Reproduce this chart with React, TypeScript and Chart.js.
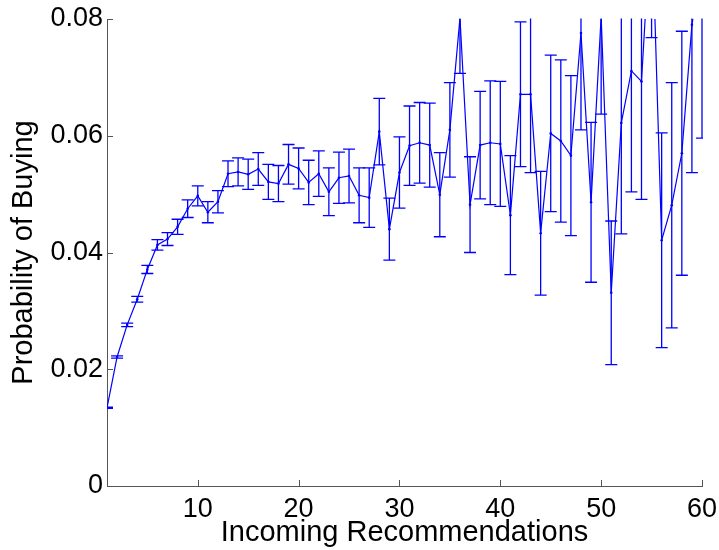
import React, { useEffect, useRef } from "react";
import { Chart, registerables } from "chart.js";

Chart.register(...registerables);

const incoming = [
  1, 2, 3, 4, 5, 6, 7, 8, 9, 10, 11, 12, 13, 14, 15, 16, 17, 18, 19, 20,
  21, 22, 23, 24, 25, 26, 27, 28, 29, 30, 31, 32, 33, 34, 35, 36, 37, 38, 39, 40,
  41, 42, 43, 44, 45, 46, 47, 48, 49, 50, 51, 52, 53, 54, 55, 56, 57, 58, 59, 60,
];

const probability = [
  0.0134, 0.0221, 0.0276, 0.032, 0.0371, 0.0413, 0.0423, 0.0444, 0.0475, 0.0497,
  0.0469, 0.0487, 0.0535, 0.0538, 0.0534, 0.0543, 0.0521, 0.0518, 0.0551, 0.0544,
  0.052, 0.0535, 0.0504, 0.0528, 0.0531, 0.0498, 0.0494, 0.0607, 0.044, 0.0537,
  0.0583, 0.0588, 0.0584, 0.0499, 0.061, 0.0802, 0.0482, 0.0584, 0.0588, 0.0586,
  0.0464, 0.0671, 0.0671, 0.0433, 0.0604, 0.0591, 0.0566, 0.0776, 0.0486, 0.0805,
  0.0331, 0.0622, 0.0711, 0.0693, 0.099, 0.0421, 0.0481, 0.057, 0.079, 0.09,
];

const stdError = [
  0.0001, 0.0002, 0.0003, 0.0005, 0.0007, 0.0009, 0.0011, 0.0013, 0.0015, 0.0017,
  0.0018, 0.0019, 0.0022, 0.0024, 0.0026, 0.0028, 0.003, 0.0031, 0.0034, 0.0035,
  0.0038, 0.0039, 0.0041, 0.0044, 0.0046, 0.0047, 0.0051, 0.0057, 0.0053, 0.0061,
  0.0068, 0.0069, 0.0072, 0.0072, 0.0081, 0.0095, 0.0082, 0.0092, 0.0106, 0.0107,
  0.0102, 0.0124, 0.0134, 0.0106, 0.0134, 0.0139, 0.0137, 0.0166, 0.0137, 0.0168,
  0.0123, 0.019, 0.0207, 0.0202, 0.0222, 0.0184, 0.021, 0.0209, 0.0253, 0.0304,
];

const xTickValues = [10, 20, 30, 40, 50, 60];
const yTickValues = [0, 0.02, 0.04, 0.06, 0.08];
const yTickLabels = ["0", "0.02", "0.04", "0.06", "0.08"];

const FONT = "'Liberation Sans', Arial, Helvetica, sans-serif";
const BLUE = "#0000ff";

const errorBarPlugin = {
  id: "errorBars",
  afterDatasetsDraw(chart: any) {
    const { ctx, chartArea, scales } = chart;
    const xs = scales.x;
    const ys = scales.y;
    ctx.save();
    ctx.beginPath();
    ctx.rect(chartArea.left, chartArea.top - 0.5, chartArea.right - chartArea.left + 1, chartArea.bottom - chartArea.top + 1);
    ctx.clip();
    ctx.strokeStyle = BLUE;
    ctx.lineWidth = 1.3;
    const cap = 6;
    for (let i = 0; i < incoming.length; i++) {
      const x = xs.getPixelForValue(incoming[i]);
      const yTop = ys.getPixelForValue(probability[i] + stdError[i]);
      const yBot = ys.getPixelForValue(probability[i] - stdError[i]);
      ctx.beginPath();
      ctx.moveTo(x, yTop);
      ctx.lineTo(x, yBot);
      ctx.moveTo(x - cap, yTop);
      ctx.lineTo(x + cap, yTop);
      ctx.moveTo(x - cap, yBot);
      ctx.lineTo(x + cap, yBot);
      ctx.stroke();
    }
    ctx.restore();
  },
};

const inwardTicksPlugin = {
  id: "inwardTicks",
  afterDraw(chart: any) {
    const { ctx, chartArea, scales } = chart;
    const len = 6;
    ctx.save();
    ctx.strokeStyle = "#555555";
    ctx.lineWidth = 1;
    ctx.beginPath();
    for (const v of xTickValues) {
      const x = Math.round(scales.x.getPixelForValue(v)) + 0.5;
      ctx.moveTo(x, chartArea.bottom);
      ctx.lineTo(x, chartArea.bottom - len);
    }
    for (const v of yTickValues) {
      const y = Math.round(scales.y.getPixelForValue(v)) + 0.5;
      ctx.moveTo(chartArea.left, y);
      ctx.lineTo(chartArea.left + len, y);
    }
    ctx.stroke();
    ctx.restore();
  },
};

export default function App() {
  const canvasRef = useRef<HTMLCanvasElement | null>(null);

  useEffect(() => {
    if (!canvasRef.current) return;
    const chart = new Chart(canvasRef.current, {
      type: "line",
      data: {
        datasets: [
          {
            data: incoming.map((x, i) => ({ x, y: probability[i] })),
            borderColor: BLUE,
            backgroundColor: BLUE,
            borderWidth: 1.2,
            pointRadius: 1.3,
            pointBorderWidth: 0,
            pointBackgroundColor: BLUE,
            tension: 0,
            fill: false,
            clip: 0,
          },
        ],
      },
      options: {
        animation: false,
        responsive: false,
        devicePixelRatio: 1,
        layout: { padding: { top: 19, right: 17, left: 0, bottom: 0 } },
        plugins: {
          legend: { display: false },
          tooltip: { enabled: false },
        },
        scales: {
          x: {
            type: "linear",
            min: 1,
            max: 60,
            grid: { display: false, drawTicks: false },
            border: { display: true, color: "#555555", width: 1 },
            afterBuildTicks: (scale: any) => {
              scale.ticks = xTickValues.map((v) => ({ value: v }));
            },
            afterFit: (scale: any) => {
              scale.height = 64;
              scale.paddingLeft = 0;
              scale.paddingRight = 0;
            },
            ticks: {
              padding: 7,
              color: "#000",
              font: { family: FONT, size: 27 },
              maxRotation: 0,
              autoSkip: false,
            },
            title: {
              display: true,
              text: "Incoming Recommendations",
              color: "#000",
              font: { family: FONT, size: 29 },
              padding: { top: 0, bottom: 0 },
            },
          },
          y: {
            type: "linear",
            min: 0,
            max: 0.08,
            grid: { display: false, drawTicks: false },
            border: { display: true, color: "#555555", width: 1 },
            afterBuildTicks: (scale: any) => {
              scale.ticks = yTickValues.map((v) => ({ value: v }));
            },
            afterFit: (scale: any) => {
              scale.width = 107;
              scale.paddingTop = 0;
              scale.paddingBottom = 0;
            },
            ticks: {
              padding: 4,
              color: "#000",
              font: { family: FONT, size: 27 },
              autoSkip: false,
              callback: (value: any) => {
                const idx = yTickValues.findIndex((v) => Math.abs(v - Number(value)) < 1e-9);
                return idx >= 0 ? yTickLabels[idx] : "";
              },
            },
            title: {
              display: true,
              text: "Probability of Buying",
              color: "#000",
              font: { family: FONT, size: 29 },
              padding: { top: 7, bottom: 0 },
            },
          },
        },
      },
      plugins: [errorBarPlugin, inwardTicksPlugin],
    } as any);
    return () => chart.destroy();
  }, []);

  return (
    <div style={{ position: "absolute", left: 0, top: 0, width: 719, height: 550, background: "#fff" }}>
      <canvas ref={canvasRef} width={719} height={550} />
    </div>
  );
}
